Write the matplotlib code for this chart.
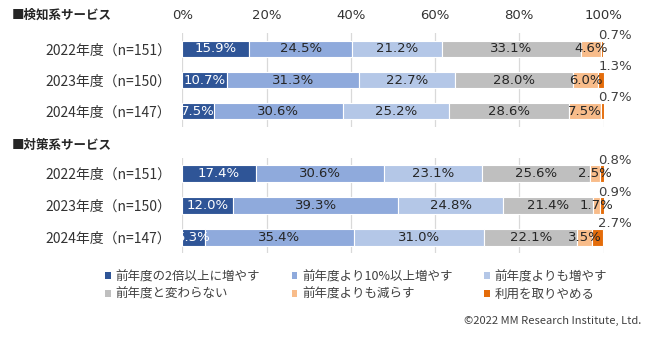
import matplotlib
matplotlib.use("Agg")
import matplotlib.pyplot as plt
from matplotlib.patches import Patch

plt.rcParams['font.family'] = ['Noto Sans CJK JP', 'DejaVu Sans']

# データ
years = ["2022年度（n=151）", "2023年度（n=150）", "2024年度（n=147）"]
categories = ["前年度の2倍以上に増やす", "前年度より10%以上増やす", "前年度よりも増やす",
              "前年度と変わらない", "前年度よりも減らす", "利用を取りやめる"]
colors = ["#2F5597", "#8FAADC", "#B4C7E7", "#BFBFBF", "#F8BC8A", "#E46C0A"]

# 検知系サービス
detect = [
    [15.9, 24.5, 21.2, 33.1, 4.6, 0.7],
    [10.7, 31.3, 22.7, 28.0, 6.0, 1.3],
    [7.5, 30.6, 25.2, 28.6, 7.5, 0.7],
]
# 対策系サービス
counter = [
    [17.4, 30.6, 23.1, 25.6, 2.5, 0.8],
    [12.0, 39.3, 24.8, 21.4, 1.7, 0.9],
    [5.3, 35.4, 31.0, 22.1, 3.5, 2.7],
]

W, H = 665, 337
fig = plt.figure(figsize=(W / 100, H / 100), dpi=100)

txt = '#333333'
num_font = 'DejaVu Sans'
left = 182.3 / W
width = (603.5 - 182.3) / W


def draw(ax, rows, top_ticks):
    ypos = range(len(rows))
    lefts = [0.0] * len(rows)
    for k in range(len(categories)):
        vals = [r[k] for r in rows]
        bars = ax.barh(ypos, vals, left=lefts, height=0.54, color=colors[k],
                       edgecolor='white', linewidth=0.8, zorder=2)
        if k < 5:
            for b, v in zip(bars, vals):
                ax.text(b.get_x() + b.get_width() / 2, b.get_y() + b.get_height() / 2,
                        f"{v:.1f}%", ha='center', va='center', fontsize=9.5,
                        family=num_font,
                        color='white' if k == 0 else '#262626', zorder=3)
        else:
            for i, v in enumerate(vals):
                ax.text(102.8, i - 0.42, f"{v:.1f}%", ha='center', va='center',
                        fontsize=9.5, family=num_font, color='#404040', zorder=3)
        lefts = [a + b for a, b in zip(lefts, vals)]
    ax.set_xlim(0, 100)
    ax.set_xticks([0, 20, 40, 60, 80, 100])
    ax.grid(axis='x', color='#D9D9D9', linewidth=0.9, zorder=0)
    ax.set_yticks(list(ypos))
    ax.set_yticklabels(years, fontsize=10, color=txt)
    ax.tick_params(axis='y', length=0, pad=8)
    if top_ticks:
        ax.xaxis.tick_top()
        ax.set_xticklabels([f"{t}%" for t in [0, 20, 40, 60, 80, 100]],
                           fontsize=9.5, color=txt, family=num_font)
        ax.tick_params(axis='x', length=0, pad=8)
    else:
        ax.tick_params(axis='x', length=0, labeltop=False, labelbottom=False)
    for s in ax.spines.values():
        s.set_visible(False)


ax1 = fig.add_axes([left, 1 - 127 / H, width, 94 / H])
draw(ax1, detect, True)
ax1.set_ylim(2.516, -0.516)

ax2 = fig.add_axes([left, 1 - 253 / H, width, 95 / H])
draw(ax2, counter, False)
ax2.set_ylim(2.49, -0.49)

fig.text(12 / W, 1 - 15 / H, "■検知系サービス", fontsize=9, fontweight='bold',
         color='#262626', va='center', ha='left')
fig.text(12 / W, 1 - 145 / H, "■対策系サービス", fontsize=9, fontweight='bold',
         color='#262626', va='center', ha='left')

handles = [Patch(facecolor=c, edgecolor='none') for c in colors]
order = [0, 3, 1, 4, 2, 5]
leg = fig.legend([handles[i] for i in order], [categories[i] for i in order],
                 ncol=3, loc='upper left', bbox_to_anchor=(99 / W, 1 - 264 / H),
                 frameon=False, fontsize=9, handlelength=0.45, handleheight=0.45,
                 handletextpad=0.4, columnspacing=2.5, labelspacing=0.35,
                 borderpad=0, labelcolor='#404040')

fig.text(641 / W, 1 - 321 / H, "©2022 MM Research Institute, Ltd.", fontsize=8,
         color='#404040', ha='right', va='center')

fig.savefig("out.png", dpi=100)
